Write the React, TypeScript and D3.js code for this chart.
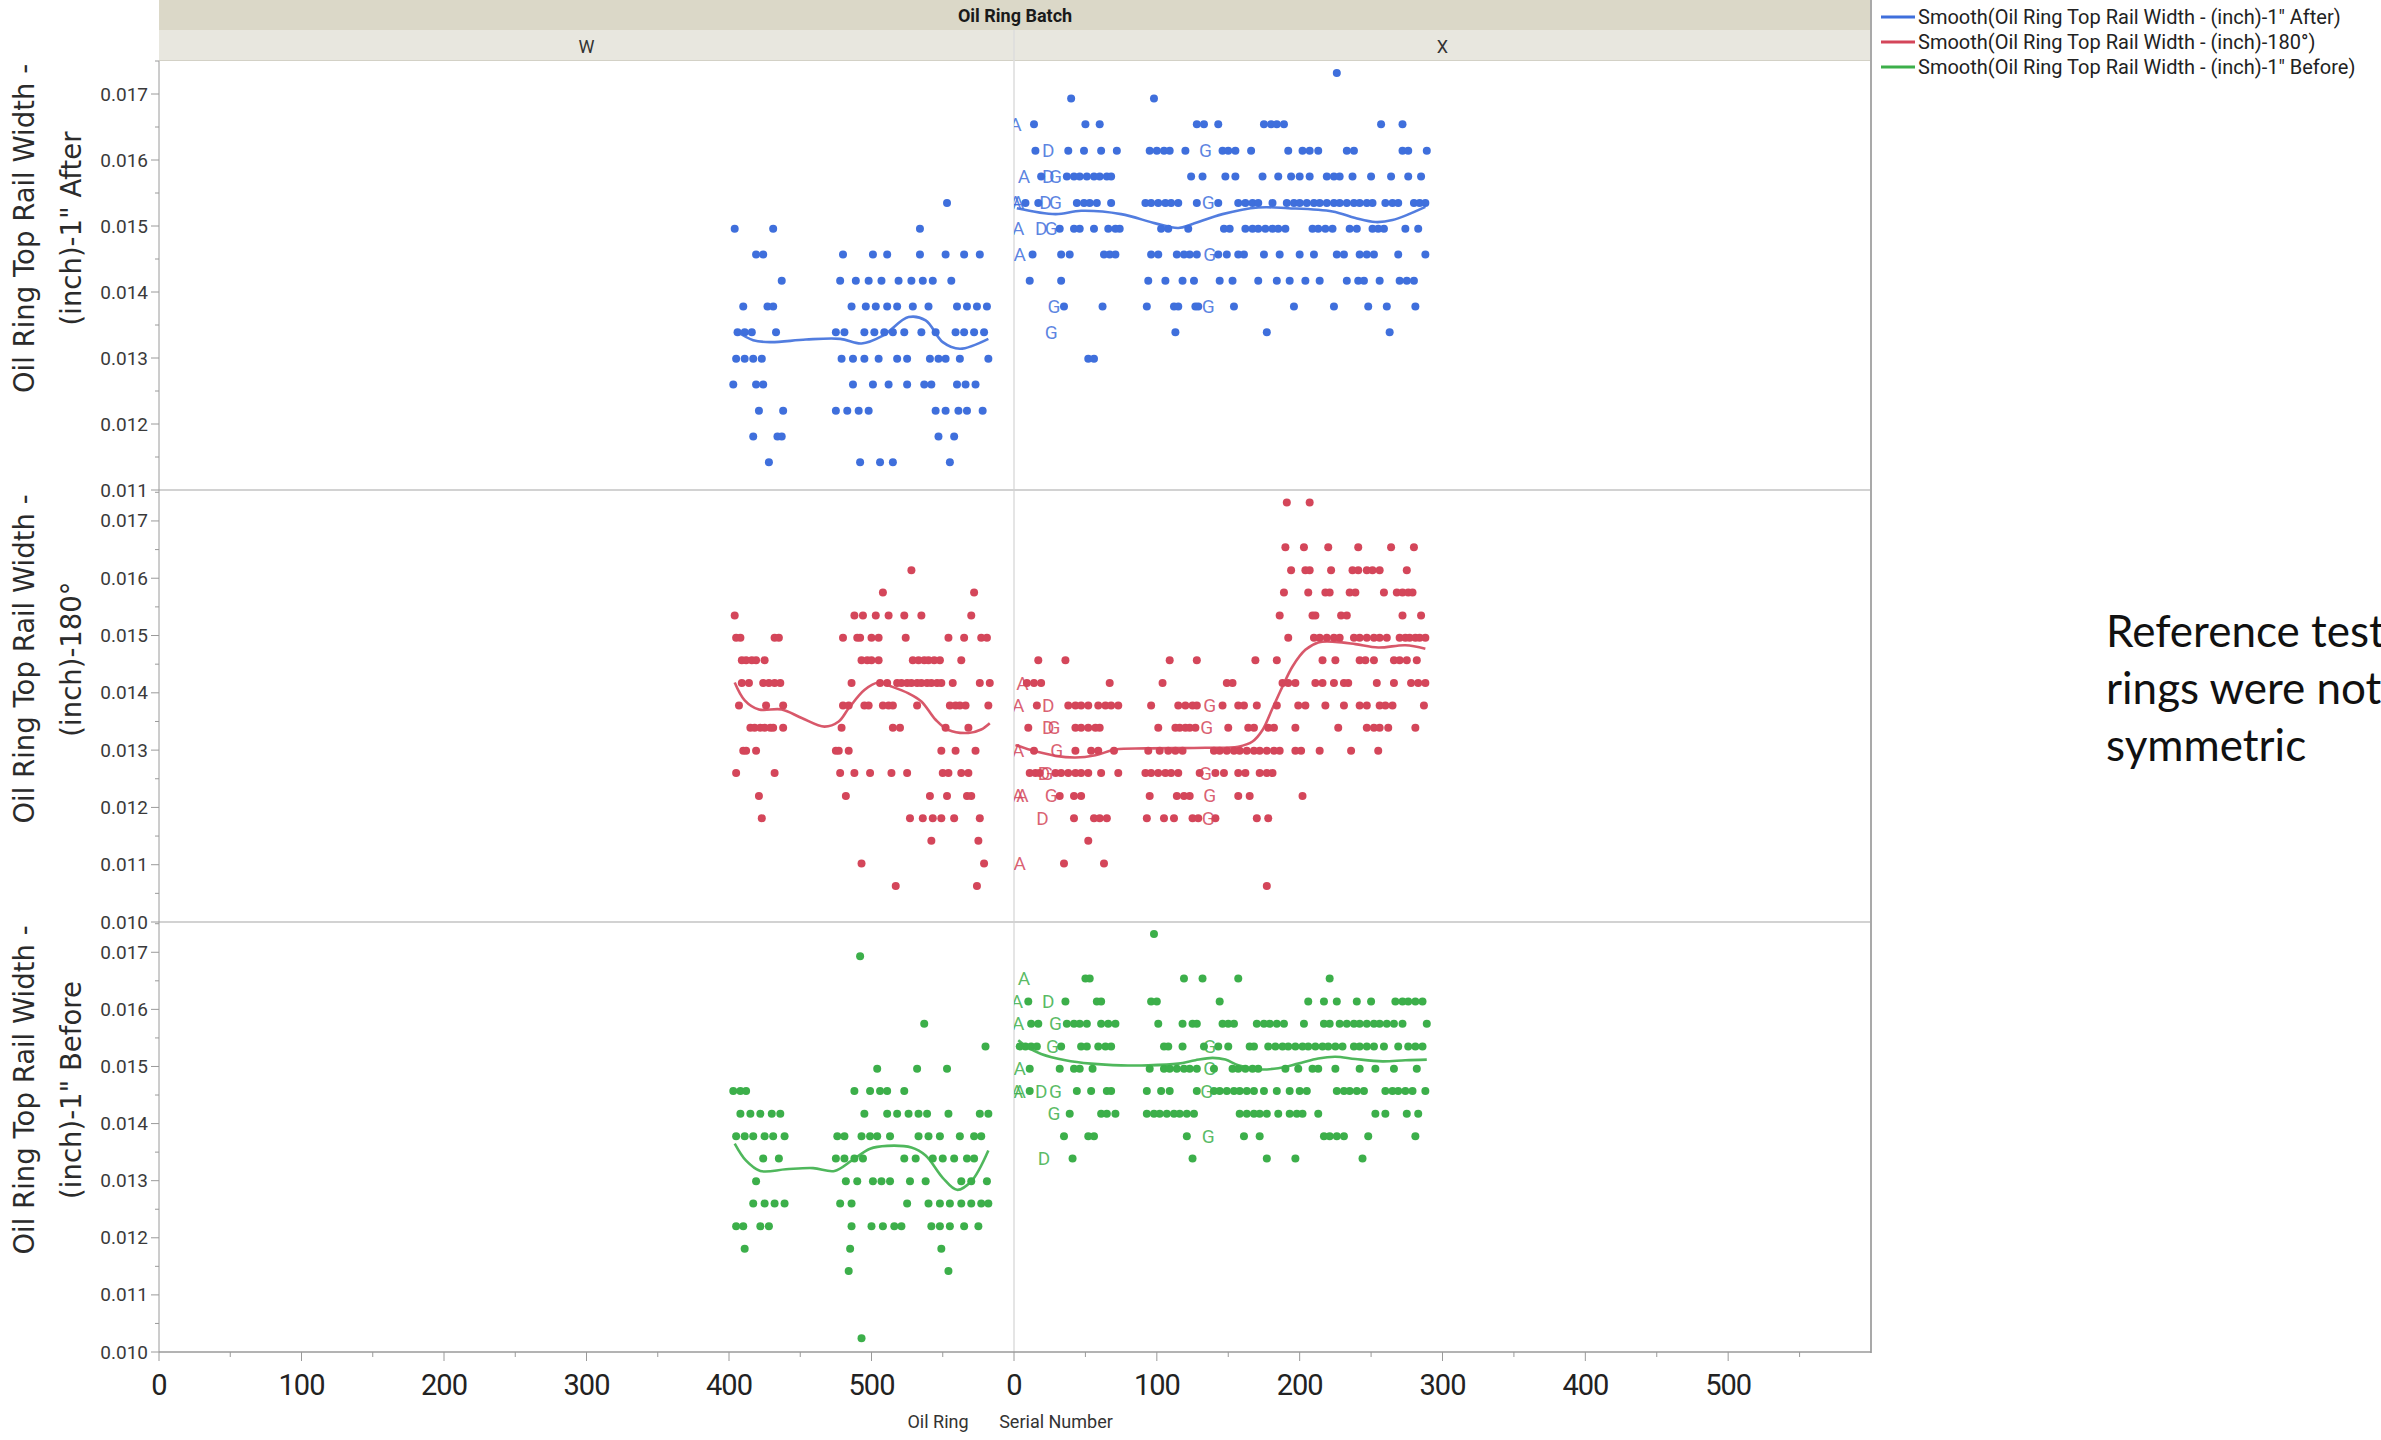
import React, { useEffect, useRef } from "react";
import * as d3 from "d3";

type Row = [number, number[]]; // [width (inch), serial numbers]
type Tag = [string, number, number]; // [letter, serial, width]
type Pt = [number, number];

// ---- 1" After ----
const afterW: Row[] = [
  [0.01535, [553]],
  [0.01496, [404, 431, 534]],
  [0.01457, [419, 424, 480, 501, 511, 534, 552, 565, 576]],
  [0.01417, [437, 478, 489, 498, 507, 519, 528, 536, 543, 556]],
  [0.01378, [410, 427, 431, 486, 496, 503, 511, 518, 529, 540, 560, 567, 574, 581]],
  [0.01339, [406, 411, 416, 433, 475, 481, 495, 502, 509, 515, 523, 535, 545, 559, 565, 572, 579]],
  [0.01299, [405, 411, 417, 423, 479, 487, 495, 505, 518, 525, 541, 547, 552, 562, 582]],
  [0.0126, [403, 419, 424, 487, 501, 512, 525, 537, 542, 560, 566, 573]],
  [0.0122, [421, 438, 475, 483, 491, 498, 545, 552, 561, 567, 578]],
  [0.01181, [417, 434, 437, 547, 558]],
  [0.01142, [428, 492, 506, 515, 555]],
];
const afterX: Row[] = [
  [0.01732, [226]],
  [0.01693, [40, 98]],
  [0.01654, [14, 50, 60, 128, 133, 143, 175, 180, 184, 189, 257, 272]],
  [0.01614, [15, 38, 49, 61, 72, 95, 100, 105, 109, 120, 146, 150, 155, 166, 192, 202, 207, 213, 233, 238, 272, 276, 289]],
  [0.01575, [19, 37, 42, 46, 51, 56, 60, 65, 68, 124, 132, 148, 155, 174, 185, 194, 200, 207, 219, 224, 228, 237, 250, 264, 276, 285]],
  [0.01535, [8, 17, 44, 49, 53, 58, 68, 92, 96, 101, 106, 110, 115, 128, 143, 157, 162, 167, 171, 181, 191, 196, 200, 205, 210, 214, 219, 224, 228, 233, 238, 242, 247, 251, 260, 265, 269, 280, 284, 288]],
  [0.01496, [32, 42, 46, 56, 66, 71, 74, 103, 108, 122, 147, 151, 162, 167, 171, 176, 181, 185, 190, 209, 213, 218, 223, 235, 240, 251, 255, 259, 274, 283]],
  [0.01457, [13, 33, 39, 63, 67, 71, 96, 101, 114, 119, 123, 128, 143, 149, 157, 161, 175, 186, 200, 210, 226, 231, 242, 247, 252, 269, 288]],
  [0.01417, [11, 33, 94, 106, 118, 126, 144, 153, 171, 184, 193, 204, 214, 233, 241, 245, 256, 270, 275, 280]],
  [0.01378, [35, 62, 93, 112, 115, 127, 129, 154, 196, 224, 248, 261, 281]],
  [0.01339, [113, 177, 263]],
  [0.01299, [52, 56]],
];
const afterTags: Tag[] = [
  ["A", 1, 0.01654], ["A", 7, 0.01575], ["A", 1, 0.01535], ["A", 3, 0.01535], ["A", 3, 0.01496], ["A", 4, 0.01457],
  ["D", 24, 0.01614], ["D", 24, 0.01575], ["D", 22, 0.01535], ["D", 19, 0.01496],
  ["G", 29, 0.01575], ["G", 29, 0.01535], ["G", 26, 0.01496], ["G", 28, 0.01378], ["G", 26, 0.01339],
  ["G", 134, 0.01614], ["G", 136, 0.01535], ["G", 137, 0.01457], ["G", 136, 0.01378],
];
const afterWSmooth: Pt[] = [
  [404, 0.01342], [417, 0.01327], [429, 0.01324], [454, 0.01328], [478, 0.01329], [493, 0.01322],
  [508, 0.01334], [526, 0.01362], [538, 0.01357], [550, 0.01324], [562, 0.01314], [582, 0.01329],
];
const afterXSmooth: Pt[] = [
  [2, 0.01527], [29, 0.01518], [47, 0.01523], [75, 0.01518], [99, 0.01504], [115, 0.01497],
  [125, 0.01503], [146, 0.01518], [171, 0.01528], [192, 0.01527], [223, 0.01522], [239, 0.01512],
  [253, 0.01506], [265, 0.01509], [288, 0.01529],
];

// ---- 180° ----
const midW: Row[] = [
  [0.01614, [528]],
  [0.01575, [508, 572]],
  [0.01535, [404, 488, 494, 503, 512, 523, 535, 570]],
  [0.01496, [405, 408, 432, 435, 480, 490, 492, 500, 505, 524, 554, 565, 577, 581]],
  [0.01457, [409, 412, 416, 419, 425, 493, 497, 500, 505, 529, 533, 537, 540, 544, 548, 563]],
  [0.01417, [409, 414, 424, 428, 432, 436, 486, 506, 511, 518, 521, 525, 528, 532, 535, 539, 542, 546, 549, 557, 576, 583]],
  [0.01378, [407, 426, 438, 480, 484, 495, 498, 508, 512, 515, 532, 555, 559, 562, 566, 582]],
  [0.01339, [415, 418, 422, 425, 429, 431, 438, 479, 515, 520, 552, 568]],
  [0.01299, [410, 412, 419, 475, 477, 484, 549, 559, 573]],
  [0.0126, [405, 432, 478, 488, 499, 514, 525, 550, 554, 563, 568]],
  [0.0122, [421, 482, 541, 553, 567, 570]],
  [0.01181, [423, 527, 536, 543, 549, 558, 576]],
  [0.01142, [542, 575]],
  [0.01102, [493, 579]],
  [0.01063, [517, 574]],
];
const midX: Row[] = [
  [0.01732, [191, 207]],
  [0.01654, [190, 203, 220, 241, 264, 280]],
  [0.01614, [194, 204, 207, 222, 237, 241, 247, 251, 256, 275]],
  [0.01575, [189, 206, 218, 221, 235, 239, 259, 268, 272, 276, 279]],
  [0.01535, [186, 209, 211, 229, 233, 272, 285]],
  [0.01496, [192, 210, 214, 219, 224, 228, 238, 242, 247, 252, 256, 261, 270, 274, 277, 281, 284, 288]],
  [0.01457, [17, 36, 109, 128, 169, 184, 216, 225, 242, 246, 252, 266, 270, 275, 282]],
  [0.01417, [9, 14, 19, 67, 104, 149, 153, 188, 192, 197, 211, 216, 224, 231, 234, 254, 266, 278, 283, 288]],
  [0.01378, [16, 38, 43, 47, 52, 59, 64, 68, 73, 96, 115, 120, 125, 128, 146, 157, 161, 170, 184, 199, 204, 218, 231, 242, 247, 256, 260, 265, 287]],
  [0.01339, [10, 43, 47, 52, 57, 60, 101, 113, 116, 120, 123, 127, 150, 164, 168, 178, 182, 197, 227, 247, 252, 256, 262, 281]],
  [0.01299, [14, 43, 54, 59, 70, 94, 102, 108, 113, 118, 140, 144, 149, 154, 158, 163, 168, 172, 177, 182, 186, 197, 201, 214, 236, 255]],
  [0.0126, [11, 15, 18, 29, 33, 38, 43, 47, 52, 61, 73, 92, 96, 101, 106, 110, 115, 130, 141, 147, 157, 162, 172, 177, 181]],
  [0.0122, [32, 42, 47, 95, 114, 119, 123, 157, 165, 202]],
  [0.01181, [42, 56, 60, 65, 93, 105, 112, 125, 129, 141, 170, 178]],
  [0.01142, [52]],
  [0.01102, [35, 63]],
  [0.01063, [177]],
];
const midTags: Tag[] = [
  ["A", 6, 0.01417], ["A", 3, 0.01378], ["A", 3, 0.01299], ["A", 3, 0.0122], ["A", 6, 0.0122], ["A", 4, 0.01102],
  ["D", 24, 0.01378], ["D", 24, 0.01339], ["D", 21, 0.0126], ["D", 20, 0.01181],
  ["G", 28, 0.01339], ["G", 30, 0.01299], ["G", 23, 0.0126], ["G", 26, 0.0122],
  ["G", 137, 0.01378], ["G", 135, 0.01339], ["G", 134, 0.0126], ["G", 137, 0.0122], ["G", 136, 0.01181],
];
const midWSmooth: Pt[] = [
  [404, 0.01418], [411, 0.01387], [421, 0.01371], [437, 0.01371], [451, 0.01356], [467, 0.01341],
  [477, 0.0135], [484, 0.01373], [495, 0.01405], [505, 0.01418], [514, 0.01411], [526, 0.01399],
  [535, 0.01385], [545, 0.01353], [554, 0.01335], [568, 0.0133], [577, 0.01336], [583, 0.01347],
];
const midXSmooth: Pt[] = [
  [1, 0.01309], [12, 0.013], [29, 0.0129], [43, 0.01287], [57, 0.01291], [71, 0.01301],
  [92, 0.01303], [134, 0.01304], [157, 0.01306], [167, 0.01315], [174, 0.01335], [181, 0.01373],
  [188, 0.01411], [195, 0.01446], [204, 0.01475], [213, 0.01488], [225, 0.01489], [239, 0.01485],
  [255, 0.01479], [274, 0.01483], [288, 0.01477],
];

// ---- 1" Before ----
const beforeW: Row[] = [
  [0.01693, [492]],
  [0.01575, [537]],
  [0.01535, [580]],
  [0.01496, [504, 532, 553]],
  [0.01457, [403, 408, 412, 488, 499, 506, 511, 523]],
  [0.01417, [408, 415, 422, 430, 436, 495, 511, 518, 526, 533, 539, 554, 576, 582]],
  [0.01378, [405, 411, 417, 425, 431, 439, 476, 481, 493, 499, 504, 513, 533, 540, 548, 562, 572, 577]],
  [0.01339, [424, 435, 475, 481, 488, 494, 523, 531, 543, 550, 558, 567, 572]],
  [0.01299, [419, 482, 490, 501, 507, 513, 527, 538, 563, 570, 581]],
  [0.0126, [417, 425, 432, 439, 478, 486, 525, 540, 548, 555, 563, 570, 577, 582]],
  [0.0122, [405, 410, 422, 428, 486, 500, 508, 516, 521, 542, 548, 555, 565, 575]],
  [0.01181, [411, 485, 549]],
  [0.01142, [484, 554]],
  [0.01024, [493]],
];
const beforeX: Row[] = [
  [0.01732, [98]],
  [0.01654, [50, 53, 119, 132, 157, 221]],
  [0.01614, [10, 36, 58, 61, 96, 100, 144, 206, 217, 226, 240, 250, 267, 272, 276, 281, 286]],
  [0.01575, [12, 17, 37, 42, 46, 51, 61, 66, 71, 101, 118, 125, 128, 146, 150, 154, 170, 175, 179, 184, 189, 203, 217, 221, 228, 233, 238, 242, 247, 252, 256, 261, 266, 272, 289]],
  [0.01535, [4, 8, 12, 16, 33, 47, 51, 59, 64, 68, 105, 108, 118, 133, 143, 150, 165, 168, 178, 183, 188, 192, 197, 202, 206, 211, 216, 220, 225, 230, 238, 242, 247, 252, 259, 269, 276, 281, 286]],
  [0.01496, [11, 32, 42, 46, 55, 95, 105, 109, 114, 119, 123, 128, 140, 153, 157, 162, 167, 171, 190, 199, 209, 213, 225, 242, 253, 266, 282]],
  [0.01457, [11, 44, 54, 65, 68, 93, 103, 109, 128, 140, 144, 149, 154, 158, 163, 168, 175, 184, 193, 200, 205, 226, 231, 235, 240, 245, 260, 265, 269, 274, 279, 288]],
  [0.01417, [39, 61, 65, 71, 93, 98, 102, 107, 112, 116, 121, 126, 158, 163, 168, 172, 177, 185, 193, 198, 202, 213, 253, 260, 275, 283]],
  [0.01378, [35, 52, 56, 121, 161, 172, 217, 221, 226, 231, 248, 281]],
  [0.01339, [41, 125, 177, 197, 244]],
];
const beforeTags: Tag[] = [
  ["A", 7, 0.01654], ["A", 2, 0.01614], ["A", 3, 0.01575], ["A", 4, 0.01496], ["A", 2, 0.01457], ["A", 4, 0.01457],
  ["D", 24, 0.01614], ["D", 19, 0.01457], ["D", 21, 0.01339],
  ["G", 29, 0.01575], ["G", 27, 0.01535], ["G", 29, 0.01457], ["G", 28, 0.01417],
  ["G", 137, 0.01535], ["G", 137, 0.01496], ["G", 135, 0.01457], ["G", 136, 0.01378],
];
const beforeWSmooth: Pt[] = [
  [404, 0.01365], [412, 0.01335], [422, 0.01317], [440, 0.0132], [459, 0.01322], [474, 0.01317],
  [486, 0.01335], [499, 0.01356], [511, 0.01361], [528, 0.01358], [538, 0.01344], [550, 0.01305],
  [560, 0.01284], [570, 0.01299], [582, 0.01353],
];
const beforeXSmooth: Pt[] = [
  [3, 0.01546], [10, 0.01533], [19, 0.01522], [36, 0.01511], [54, 0.01505], [75, 0.01502],
  [94, 0.01502], [115, 0.01505], [127, 0.01511], [139, 0.01515], [148, 0.01512], [157, 0.01502],
  [171, 0.01495], [185, 0.01497], [199, 0.01505], [213, 0.01514], [225, 0.01517], [239, 0.01513],
  [258, 0.01509], [274, 0.01511], [289, 0.01512],
];

const batches = ["W", "X"];
const titles = ['(inch)-1" After', "(inch)-180°", '(inch)-1" Before'];
const legendNames = [
  'Smooth(Oil Ring Top Rail Width - (inch)-1" After)',
  "Smooth(Oil Ring Top Rail Width - (inch)-180°)",
  'Smooth(Oil Ring Top Rail Width - (inch)-1" Before)',
];
const colors = ["#3f6fdc", "#d4465a", "#3caf4a"];
const xTicks = [0, 100, 200, 300, 400, 500];
const xMinor = [50, 150, 250, 350, 450, 550];
const yTicksAfter = [0.011, 0.012, 0.013, 0.014, 0.015, 0.016, 0.017];
const yTicksRest = [0.01, 0.011, 0.012, 0.013, 0.014, 0.015, 0.016, 0.017];
const note = ["Reference test", "rings were not", "symmetric"];

const W = 2381;
const H = 1440;
const left = 159;
const mid = 1014;
const right = 1871;
const plotTop = 61;
const plotBottom = 1352;

const panels = [
  { w: afterW, x: afterX, tags: afterTags, sw: afterWSmooth, sx: afterXSmooth, domain: [0.011, 0.0175], ticks: yTicksAfter, top: 61, bottom: 490 },
  { w: midW, x: midX, tags: midTags, sw: midWSmooth, sx: midXSmooth, domain: [0.01, 0.01754], ticks: yTicksRest, top: 490, bottom: 922 },
  { w: beforeW, x: beforeX, tags: beforeTags, sw: beforeWSmooth, sx: beforeXSmooth, domain: [0.01, 0.01753], ticks: yTicksRest, top: 922, bottom: 1352 },
];

const App = () => {
  const svgRef = useRef<SVGSVGElement>(null);

  useEffect(() => {
    const svg = d3.select(svgRef.current);
    svg.selectAll("*").remove();

    const xW = d3.scaleLinear().domain([0, 600]).range([left, mid]);
    const xX = d3.scaleLinear().domain([0, 600]).range([mid, right]);
    const fmt = d3.format(".3f");
    const uiFont = "Roboto, 'Open Sans', sans-serif";

    svg.append("rect").attr("width", W).attr("height", H).attr("fill", "#ffffff");

    // clip paths for the two batch columns
    const defs = svg.append("defs");
    defs.append("clipPath").attr("id", "clipW").append("rect")
      .attr("x", left).attr("y", plotTop).attr("width", mid - left).attr("height", plotBottom - plotTop);
    defs.append("clipPath").attr("id", "clipX").append("rect")
      .attr("x", mid).attr("y", plotTop).attr("width", right - mid).attr("height", plotBottom - plotTop);

    // header bands
    svg.append("rect").attr("x", left).attr("y", 0).attr("width", right - left).attr("height", 30).attr("fill", "#dbd8c8");
    svg.append("rect").attr("x", left).attr("y", 30).attr("width", right - left).attr("height", 31).attr("fill", "#e8e7df");
    svg.append("line").attr("x1", left).attr("x2", right).attr("y1", 60.5).attr("y2", 60.5).attr("stroke", "#d3d1c6");
    svg.append("text").attr("x", (left + right) / 2).attr("y", 15).attr("text-anchor", "middle")
      .attr("dominant-baseline", "central").attr("font-family", uiFont).attr("font-weight", 700)
      .attr("font-size", 18).attr("fill", "#1a1a1a").text("Oil Ring Batch");
    const xs = [xW, xX];
    batches.forEach((b, i) => {
      const r = xs[i].range();
      svg.append("text").attr("x", (r[0] + r[1]) / 2).attr("y", 46).attr("text-anchor", "middle")
        .attr("dominant-baseline", "central").attr("font-family", uiFont).attr("font-size", 18)
        .attr("fill", "#333").text(b);
    });

    // frame lines
    svg.append("line").attr("x1", mid).attr("x2", mid).attr("y1", 30).attr("y2", plotBottom)
      .attr("stroke", "#dcdcdc").attr("stroke-width", 1.5);
    [490, 922].forEach((y) => {
      svg.append("line").attr("x1", left).attr("x2", right).attr("y1", y).attr("y2", y)
        .attr("stroke", "#d2d2d2").attr("stroke-width", 2);
    });

    panels.forEach((p, pi) => {
      const y = d3.scaleLinear().domain(p.domain).range([p.bottom, p.top]);
      const color = colors[pi];
      const line = d3.line<Pt>().y((d) => y(d[1])).curve(d3.curveCatmullRom.alpha(0.5));

      const groups: [Row[], Pt[], d3.ScaleLinear<number, number>, string][] = [
        [p.w, p.sw, xW, "clipW"],
        [p.x, p.sx, xX, "clipX"],
      ];
      groups.forEach(([rows, smooth, sc, clip]) => {
        const g = svg.append("g").attr("clip-path", `url(#${clip})`);
        const pts = rows.flatMap(([v, ss]) => ss.map((s) => [s, v] as Pt));
        g.selectAll("circle").data(pts).join("circle")
          .attr("cx", (d) => sc(d[0])).attr("cy", (d) => y(d[1])).attr("r", 4).attr("fill", color);
        if (clip === "clipX") {
          g.selectAll("text").data(p.tags).join("text")
            .attr("x", (d) => sc(d[1])).attr("y", (d) => y(d[2]))
            .attr("text-anchor", "middle").attr("dominant-baseline", "central")
            .attr("font-family", uiFont).attr("font-size", 19).attr("fill", color).attr("fill-opacity", 0.85)
            .text((d) => d[0]);
        }
        g.append("path")
          .attr("d", line.x((d) => sc(d[0]))(smooth))
          .attr("fill", "none").attr("stroke", color).attr("stroke-width", 2.6).attr("stroke-opacity", 0.9);
      });

      // y axis ticks
      const ax = svg.append("g");
      const minor = d3.range(p.domain[0] + 0.0005, p.domain[1], 0.001);
      minor.forEach((v) => {
        ax.append("line").attr("x1", left - 4).attr("x2", left).attr("y1", y(v)).attr("y2", y(v)).attr("stroke", "#9a9a9a");
      });
      p.ticks.forEach((v) => {
        ax.append("line").attr("x1", left - 8).attr("x2", left).attr("y1", y(v)).attr("y2", y(v)).attr("stroke", "#9a9a9a");
        ax.append("text").attr("x", left - 11).attr("y", y(v)).attr("text-anchor", "end")
          .attr("dominant-baseline", "central").attr("font-family", uiFont).attr("font-size", 19)
          .attr("fill", "#3a3a3a").text(fmt(v));
      });

      // y titles
      const cy = (p.top + p.bottom) / 2 - 47;
      [["Oil Ring Top Rail Width -", 24], [titles[pi], 71]].forEach(([t, x]) => {
        svg.append("text").attr("transform", `translate(${x},${cy}) rotate(-90)`)
          .attr("text-anchor", "middle").attr("dominant-baseline", "central")
          .attr("font-family", "'DejaVu Sans', Verdana, sans-serif").attr("font-size", 27.5)
          .attr("fill", "#2b2b2b").text(t as string);
      });
    });

    // axes frame
    svg.append("line").attr("x1", left).attr("x2", left).attr("y1", plotTop).attr("y2", plotBottom).attr("stroke", "#9a9a9a");
    svg.append("line").attr("x1", right).attr("x2", right).attr("y1", 0).attr("y2", plotBottom + 1)
      .attr("stroke", "#a9a9a9").attr("stroke-width", 2);
    svg.append("line").attr("x1", left).attr("x2", right).attr("y1", plotBottom).attr("y2", plotBottom)
      .attr("stroke", "#9a9a9a").attr("stroke-width", 1.5);

    // x axes
    xs.forEach((sc) => {
      xMinor.forEach((v) => {
        svg.append("line").attr("x1", sc(v)).attr("x2", sc(v)).attr("y1", plotBottom).attr("y2", plotBottom + 5).attr("stroke", "#9a9a9a");
      });
      xTicks.forEach((v) => {
        svg.append("line").attr("x1", sc(v)).attr("x2", sc(v)).attr("y1", plotBottom).attr("y2", plotBottom + 9).attr("stroke", "#9a9a9a");
        svg.append("text").attr("x", sc(v)).attr("y", 1385).attr("text-anchor", "middle")
          .attr("dominant-baseline", "central").attr("font-family", uiFont).attr("font-size", 29)
          .attr("letter-spacing", -1).attr("fill", "#222").text(String(v));
      });
    });
    svg.append("text").attr("x", 938).attr("y", 1421).attr("text-anchor", "middle")
      .attr("dominant-baseline", "central").attr("font-family", uiFont).attr("font-size", 18)
      .attr("fill", "#333").text("Oil Ring");
    svg.append("text").attr("x", 1056).attr("y", 1421).attr("text-anchor", "middle")
      .attr("dominant-baseline", "central").attr("font-family", uiFont).attr("font-size", 18)
      .attr("fill", "#333").text("Serial Number");

    // legend
    legendNames.forEach((t, i) => {
      const ly = 17 + i * 25;
      svg.append("line").attr("x1", 1881).attr("x2", 1915).attr("y1", ly).attr("y2", ly)
        .attr("stroke", colors[i]).attr("stroke-width", 3);
      svg.append("text").attr("x", 1918).attr("y", ly).attr("dominant-baseline", "central")
        .attr("font-family", uiFont).attr("font-size", 20).attr("fill", "#222").text(t);
    });

    // annotation
    note.forEach((t, i) => {
      svg.append("text").attr("x", 2106).attr("y", 647 + i * 57)
        .attr("font-family", "Lato, 'Open Sans', sans-serif").attr("font-size", 44)
        .attr("fill", "#111").text(t);
    });
  }, []);

  return (
    <svg
      ref={svgRef}
      width={W}
      height={H}
      style={{ position: "absolute", left: 0, top: 0, display: "block" }}
    ></svg>
  );
};

export default App;
